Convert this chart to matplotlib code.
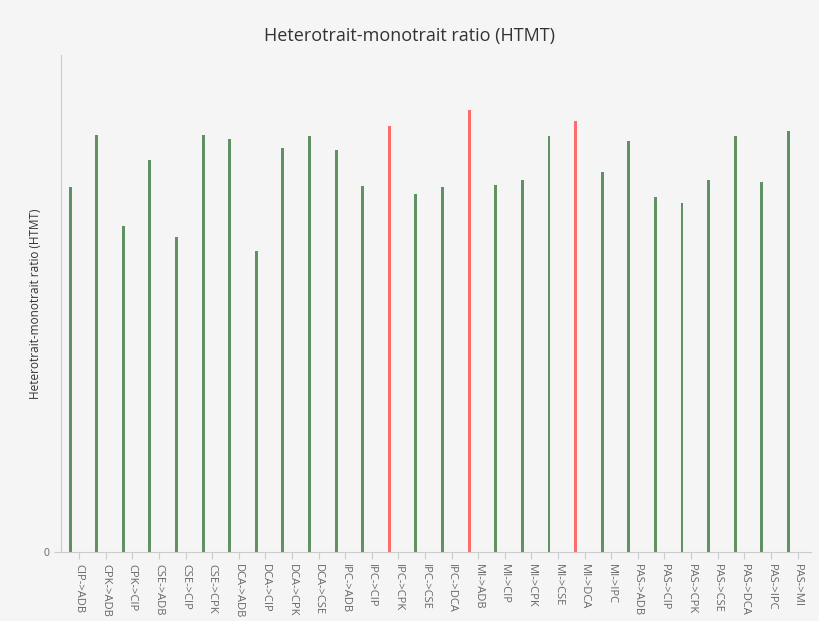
import matplotlib.pyplot as plt
import numpy as np

plt.rcParams['font.family'] = ['Open Sans', 'DejaVu Sans']

paths = ['CIP->ADB', 'CPK->ADB', 'CPK->CIP', 'CSE->ADB', 'CSE->CIP', 'CSE->CPK',
         'DCA->ADB', 'DCA->CIP', 'DCA->CPK', 'DCA->CSE', 'IPC->ADB', 'IPC->CIP',
         'IPC->CPK', 'IPC->CSE', 'IPC->DCA', 'MI->ADB', 'MI->CIP', 'MI->CPK',
         'MI->CSE', 'MI->DCA', 'MI->IPC', 'PAS->ADB', 'PAS->CIP', 'PAS->CPK',
         'PAS->CSE', 'PAS->DCA', 'PAS->IPC', 'PAS->MI']
htmt = [0.734, 0.839, 0.656, 0.789, 0.634, 0.839,
        0.831, 0.606, 0.813, 0.837, 0.809, 0.736,
        0.857, 0.720, 0.734, 0.889, 0.738, 0.748,
        0.837, 0.867, 0.765, 0.827, 0.714, 0.702,
        0.748, 0.837, 0.744, 0.847]
threshold = 0.85

bg = '#f5f5f5'
green = '#5f9162'
red = '#ff6b6b'

fig = plt.figure(figsize=(8.19, 6.21), dpi=100, facecolor=bg)
ax = fig.add_axes([0.0745, 0.111, 0.9155, 0.8])
ax.set_facecolor(bg)

x = np.arange(len(paths))
colors = [red if v > threshold else green for v in htmt]
ax.bar(x - 0.34, htmt, width=0.11, color=colors)

ax.set_xlim(-0.68, 27.5)
ax.set_ylim(0, 1.0)
ax.set_xticks(x)
ax.set_xticklabels(paths, rotation=-90, fontsize=8, color='#666666')
ax.set_yticks([0])
ax.set_yticklabels(['0'], fontsize=7.5, color='#666666')
ax.tick_params(axis='both', colors='#cccccc', labelcolor='#666666', length=5, width=0.8)

for side in ['top', 'right']:
    ax.spines[side].set_visible(False)
for side in ['left', 'bottom']:
    ax.spines[side].set_color('#cccccc')
    ax.spines[side].set_linewidth(0.8)

ax.set_ylabel('Heterotrait-monotrait ratio (HTMT)', fontsize=8.5, color='#333333', labelpad=1)
fig.suptitle('Heterotrait-monotrait ratio (HTMT)', fontsize=13, color='#333333', y=0.957)

fig.savefig('out.png', dpi=100, facecolor=bg)
